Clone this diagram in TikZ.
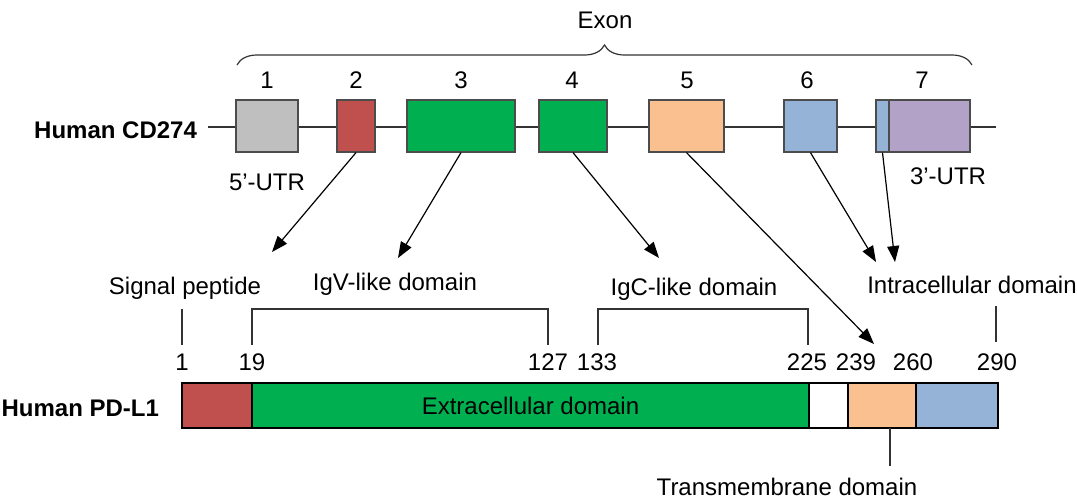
\documentclass[tikz,border=0pt]{standalone}
\usepackage{fontspec}
\setmainfont{Liberation Sans}
\usetikzlibrary{positioning}
\usetikzlibrary{arrows.meta}
\usetikzlibrary{decorations.pathreplacing}

\definecolor{exgray}{HTML}{BFBFBF}
\definecolor{exred}{HTML}{C0504D}
\definecolor{exgreen}{HTML}{00B050}
\definecolor{expeach}{HTML}{FAC090}
\definecolor{exblue}{HTML}{95B3D7}
\definecolor{expurple}{HTML}{B2A2C7}

\begin{document}
\begin{tikzpicture}[x=0.5pt,y=-0.5pt,font=\fontsize{12}{14}\selectfont,
  exon/.style={draw=black!70,line width=0.6pt,minimum height=26pt,inner sep=0pt},
  dom/.style={draw=black,line width=1pt,minimum height=22.5pt,inner sep=0pt},
  arr/.style={-{Triangle[length=8pt,width=6pt]},line width=0.6pt},
  tick/.style={line width=0.6pt,black!80}]
\useasboundingbox (0,0) rectangle (1077,499);

% gene
\node[anchor=east,font=\fontsize{12}{14}\selectfont\bfseries] (gene) at (204,130) {Human CD274};
\draw[line width=0.8pt,black!80] (208,127) -- (996,127);
\node[exon,fill=exgray,minimum width=31pt] (e1) at (267,126) {};
\node[exon,fill=exred,minimum width=19pt] (e2) at (356,126) {};
\node[exon,fill=exgreen,minimum width=54pt] (e3) at (461,126) {};
\node[exon,fill=exgreen,minimum width=34pt] (e4) at (573,126) {};
\node[exon,fill=expeach,minimum width=37.5pt] (e5) at (686.5,126) {};
\node[exon,fill=exblue,minimum width=26.5pt] (e6) at (810.5,126) {};
\node[exon,fill=exblue,minimum width=6.5pt] (e7a) at (882.5,126) {};
\node[exon,fill=expurple,minimum width=40.5pt] (e7b) at (929.5,126) {};

\node (n1) at (267,80) {1};
\node (n2) at (356,80) {2};
\node (n3) at (461,80) {3};
\node (n4) at (572,80) {4};
\node (n5) at (687,80) {5};
\node (n6) at (807,80) {6};
\node (n7) at (922,80) {7};

\draw[tick,decorate,decoration={brace,amplitude=10pt}] (237,65) -- (972,65);
\node (exon) at (605,20) {Exon};

\node (utr5) at (267,182) {5’-UTR};
\node (utr3) at (948,176) {3’-UTR};

% domain labels
\node (sig) at (185,288) {Signal peptide};
\node (igv) at (395,284) {IgV-like domain};
\node (igc) at (694,289) {IgC-like domain};
\node (intra) at (972,285) {Intracellular domain};

\coordinate (sigtip) at (272,252);
\coordinate (igvtip) at (398,258);
\coordinate (igctip) at (659,258);
\coordinate (tmtip) at (874,344);
\coordinate (ictip1) at (876,262);
\coordinate (ictip2) at (895,262);

\draw[arr] (e2.south) -- (sigtip);
\draw[arr] (e3.south) -- (igvtip);
\draw[arr] (e4.south) -- (igctip);
\draw[arr] (e5.south) -- (tmtip);
\draw[arr] (e6.south) -- (ictip1);
\draw[arr] (e7a.south) -- (ictip2);

% brackets
\draw[tick] (182,309) -- (182,345);
\draw[tick] (252,345) |- (548,309) -- (548,345);
\draw[tick] (598,345) |- (808,309) -- (808,345);
\draw[tick] (996,306) -- (996,342);

\node (a1) at (182,362) {1};
\node (a19) at (252,362) {19};
\node (a127) at (548,362) {127};
\node (a133) at (597,362) {133};
\node (a225) at (807,362) {225};
\node (a239) at (856,362) {239};
\node (a260) at (913,362) {260};
\node (a290) at (997,362) {290};

% protein
\node[anchor=east,font=\fontsize{12}{14}\selectfont\bfseries] (prot) at (166,408) {Human PD-L1};
\node[dom,fill=exred,minimum width=35pt] (p1) at (217,405.5) {};
\node[dom,fill=exgreen,minimum width=278.5pt] (p2) at (530.5,405.5) {Extracellular domain};
\node[dom,fill=white,minimum width=19.5pt] (p3) at (828.5,405.5) {};
\node[dom,fill=expeach,minimum width=34pt] (p4) at (882,405.5) {};
\node[dom,fill=exblue,minimum width=41pt] (p5) at (957,405.5) {};

\node (tm) at (787,487) {Transmembrane domain};
\coordinate (tmtop) at (890,428);
\coordinate (tmbot) at (890,466);
\draw[tick] (tmtop) -- (tmbot);
\end{tikzpicture}
\end{document}
